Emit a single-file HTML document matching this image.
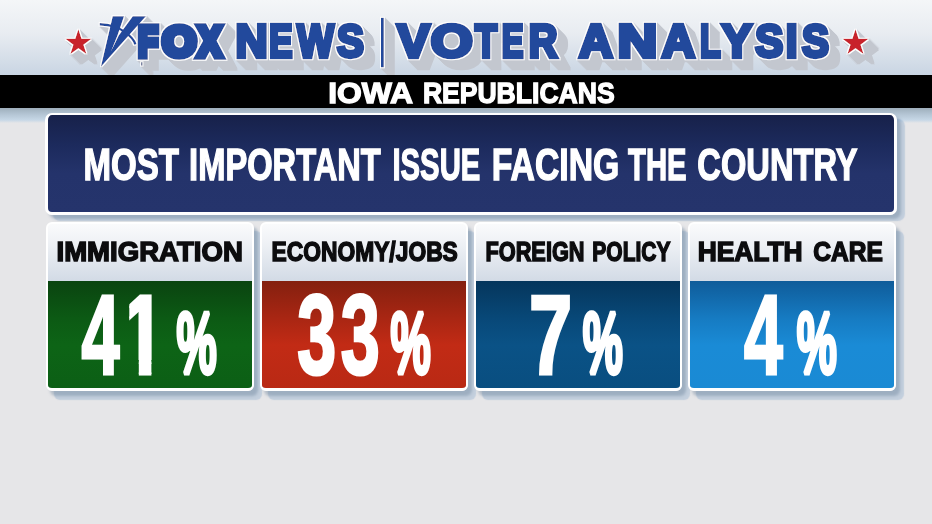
<!DOCTYPE html>
<html lang="en">
<head>
<meta charset="utf-8">
<title>Fox News Voter Analysis - Iowa Republicans</title>
<style>
html,body{margin:0;padding:0;}
body{width:932px;height:524px;position:relative;overflow:hidden;background:#e6e6e8;font-family:"Liberation Sans",sans-serif;}
.top{position:absolute;left:0;top:0;width:932px;height:75px;background:linear-gradient(180deg,#f4f6f8 0%,#e8ecf1 45%,#c9d5e3 100%);}
.bar{position:absolute;left:0;top:75px;width:932px;height:33px;background:#000;}
.under{position:absolute;left:0;top:108px;width:932px;height:16px;background:linear-gradient(180deg,#9eaebb 0px,#b3c4d3 6px,#c6d7e6 12px,#e6e6e8 15px);}
.panel{position:absolute;left:45px;top:113px;width:846px;height:97px;border:3px solid #fff;border-top-width:2px;border-radius:7px;
 background:linear-gradient(180deg,#17214a 0%,#1c2a5c 30%,#24336b 60%,#25346c 100%);
 box-shadow:4px 4px 3px rgba(105,128,152,.42),8px 6px 1px rgba(120,160,200,.32);}
.card{position:absolute;top:222px;width:204px;height:164px;border:2px solid #fff;border-bottom-width:3px;border-radius:6px;overflow:hidden;
 background:linear-gradient(180deg,#fafbfc 0px,#eef1f5 20px,#d3dbe6 56px);
 box-shadow:4px 5px 3px rgba(105,128,152,.42),8px 9px 1px rgba(120,160,200,.32);}
.card .fill{position:absolute;left:0;right:0;top:57px;bottom:0;}
.c1{left:46px}.c2{left:260px}.c3{left:474px}.c4{left:688px}
.c1 .fill{background:linear-gradient(180deg,#0a4410 0%,#0c5a14 35%,#0d6416 60%,#0c5f15 100%);}
.c2 .fill{background:linear-gradient(180deg,#84200f 0%,#a92613 35%,#c22b15 60%,#b92914 100%);}
.c3 .fill{background:linear-gradient(180deg,#05365c 0%,#084878 35%,#0a5286 60%,#094e80 100%);}
.c4 .fill{background:linear-gradient(180deg,#0f5c9a 0%,#167bc2 35%,#1a8bd6 60%,#1a8ad4 100%);}
svg{position:absolute;left:0;top:0;}
</style>
</head>
<body>
<div class="top"></div>
<div class="under"></div>
<svg width="932" height="75" viewBox="0 0 932 75">
 <defs>
  <filter id="ls" filterUnits="userSpaceOnUse" x="0" y="0" width="932" height="75">
   <feMorphology in="SourceAlpha" operator="dilate" radius="1.3" result="d"/>
   <feOffset in="d" dx="1" dy="1" result="o1"/><feOffset in="d" dx="2" dy="2" result="o2"/><feOffset in="d" dx="3" dy="3" result="o3"/><feOffset in="d" dx="4" dy="4" result="o4"/><feOffset in="d" dx="5" dy="5" result="o5"/><feOffset in="d" dx="6" dy="6" result="o6"/><feOffset in="d" dx="7" dy="7" result="o7"/><feOffset in="d" dx="8" dy="8" result="o8"/><feOffset in="d" dx="9" dy="9" result="o9"/><feOffset in="d" dx="10" dy="10" result="o10"/>
   <feMerge result="m"><feMergeNode in="o1"/><feMergeNode in="o2"/><feMergeNode in="o3"/><feMergeNode in="o4"/><feMergeNode in="o5"/><feMergeNode in="o6"/><feMergeNode in="o7"/><feMergeNode in="o8"/><feMergeNode in="o9"/><feMergeNode in="o10"/></feMerge>
   <feFlood flood-color="#c3c7cf" result="g"/><feComposite in="g" in2="m" operator="in" result="sh"/>
   <feFlood flood-color="#ffffff" result="w"/><feComposite in="w" in2="d" operator="in" result="ol"/>
   <feMerge><feMergeNode in="sh"/><feMergeNode in="ol"/><feMergeNode in="SourceGraphic"/></feMerge>
  </filter>
 </defs>
 <g filter="url(#ls)">
  <polygon fill="#c8202b" points="78.40,29.30 81.52,38.71 91.43,38.77 83.44,44.64 86.45,54.08 78.40,48.30 70.35,54.08 73.36,44.64 65.37,38.77 75.28,38.71"/>
  <polygon fill="#c8202b" points="855.50,29.30 858.62,38.71 868.53,38.77 860.54,44.64 863.55,54.08 855.50,48.30 847.45,54.08 850.46,44.64 842.47,38.77 852.38,38.71"/>
  <rect x="381" y="17.8" width="2.8" height="49.5" fill="#224a9c"/>
  <path d="M99.7,24.2 C110,24.6 119,27.5 124,31.5 C130,35.5 134,39 135.4,44.5" fill="none" stroke="#224a9c" stroke-width="2.5"/>
  <path d="M112.7,16.2 L124,16.2 L117.5,35.4 L111.2,51 L118.7,35.4 L132.8,16.2 L145.9,16.2 L100.9,66.8 Z" fill="#224a9c"/>
  <rect x="141.2" y="62.2" width="1.2" height="3.4" fill="#1f3b80"/>
  <g font-family="'Liberation Sans', sans-serif" font-size="44.5" font-weight="700" fill="#224a9c" stroke="#224a9c" stroke-width="4.2" stroke-linejoin="miter" stroke-miterlimit="2.5">
   <text font-size="40.6" stroke-width="7.0" transform="translate(0,56.21) scale(1,1.0618)"><tspan x="138.19" textLength="19.66" lengthAdjust="spacingAndGlyphs">F</tspan><tspan x="162.53" textLength="33.56" lengthAdjust="spacingAndGlyphs">O</tspan><tspan x="197.92" textLength="23.42" lengthAdjust="spacingAndGlyphs">X</tspan></text>
   <text transform="translate(0,57.34) scale(1,1.0314)"><tspan x="235.40" textLength="32.14" lengthAdjust="spacingAndGlyphs">N</tspan><tspan x="269.32" textLength="23.24" lengthAdjust="spacingAndGlyphs">E</tspan><tspan x="297.31" textLength="36.59" lengthAdjust="spacingAndGlyphs">W</tspan><tspan x="336.90" textLength="26.81" lengthAdjust="spacingAndGlyphs">S</tspan></text>
   <text transform="translate(0,57.34) scale(1,1.0314)"><tspan x="397.18" textLength="32.49" lengthAdjust="spacingAndGlyphs">V</tspan><tspan x="430.80" textLength="41.95" lengthAdjust="spacingAndGlyphs">O</tspan><tspan x="475.03" textLength="22.10" lengthAdjust="spacingAndGlyphs">T</tspan><tspan x="501.67" textLength="21.70" lengthAdjust="spacingAndGlyphs">E</tspan><tspan x="528.71" textLength="28.64" lengthAdjust="spacingAndGlyphs">R</tspan></text>
   <text transform="translate(0,57.34) scale(1,1.0314)"><tspan x="579.00" textLength="33.75" lengthAdjust="spacingAndGlyphs">A</tspan><tspan x="617.47" textLength="39.64" lengthAdjust="spacingAndGlyphs">N</tspan><tspan x="661.67" textLength="33.21" lengthAdjust="spacingAndGlyphs">A</tspan><tspan x="700.04" textLength="20.74" lengthAdjust="spacingAndGlyphs">L</tspan><tspan x="721.65" textLength="30.20" lengthAdjust="spacingAndGlyphs">Y</tspan><tspan x="755.14" textLength="27.96" lengthAdjust="spacingAndGlyphs">S</tspan><tspan x="785.85" textLength="11.76" lengthAdjust="spacingAndGlyphs">I</tspan><tspan x="802.01" textLength="26.91" lengthAdjust="spacingAndGlyphs">S</tspan></text>
  </g>
 </g>
</svg>
<div class="bar"></div>
<div class="panel"></div>
<div class="card c1"><div class="fill"></div></div>
<div class="card c2"><div class="fill"></div></div>
<div class="card c3"><div class="fill"></div></div>
<div class="card c4"><div class="fill"></div></div>
<svg width="932" height="524" viewBox="0 0 932 524">
 <g font-family="'Liberation Sans', sans-serif" font-size="26" font-weight="700" fill="#ffffff" stroke="#ffffff" stroke-width="1.2" stroke-linejoin="miter" stroke-miterlimit="2.5">
   <text transform="translate(328.17,102.50) scale(1.2250,1.1056)">IOWA</text>
   <text transform="translate(422.88,102.50) scale(1.0215,1.1056)">REPUBLICANS</text>
 </g>
 <g font-family="'Liberation Sans', sans-serif" font-size="44" font-weight="700" fill="#ffffff" stroke="#ffffff" stroke-width="1.4" stroke-linejoin="miter" stroke-miterlimit="2.5">
   <text transform="translate(83.50,179.58) scale(0.7520,1.0182)">MOST</text>
   <text transform="translate(189.12,179.58) scale(0.7424,1.0182)">IMPORTANT</text>
   <text transform="translate(392.47,179.58) scale(0.6651,1.0182)">ISSUE</text>
   <text transform="translate(491.77,179.58) scale(0.7673,1.0182)">FACING</text>
   <text transform="translate(628.00,179.58) scale(0.6655,1.0182)">THE</text>
   <text transform="translate(697.36,179.58) scale(0.7419,1.0182)">COUNTRY</text>
 </g>
 <g font-family="'Liberation Sans', sans-serif" font-size="27.5" font-weight="700" fill="#0c0c0e" stroke="#0c0c0e" stroke-width="1.5" stroke-linejoin="miter" stroke-miterlimit="2.5">
   <text transform="translate(56.50,261.01) scale(1.0033,0.9857)">IMMIGRATION</text>
   <text transform="translate(271.47,261.01) scale(0.8300,0.9857)">ECONOMY/JOBS</text>
   <text transform="translate(485.41,261.01) scale(0.7919,0.9857)">FOREIGN</text>
   <text transform="translate(592.34,261.01) scale(0.7637,0.9857)">POLICY</text>
   <text transform="translate(697.64,261.01) scale(0.9589,0.9857)">HEALTH</text>
   <text transform="translate(813.30,261.01) scale(0.8923,0.9857)">CARE</text>
 </g>
 <g font-family="'Liberation Sans', sans-serif" font-size="109" font-weight="700" fill="#ffffff" stroke="#ffffff" stroke-width="3.0" stroke-linejoin="miter" stroke-miterlimit="2.0">
   <g><text transform="translate(81.50,373.72) scale(0.6274,1.0423)">4</text><clipPath id="one"><polygon points="129.3,290.5 153.6,290.5 153.6,360.1 151.40,360.1 151.40,377.8 138.80,377.8 138.80,360.1 129.3,360.1"/></clipPath><g clip-path="url(#one)"><text transform="translate(121.27,373.72) scale(0.7240,1.0423)">1</text></g><text font-size="88" stroke-width="4.5" transform="translate(176.50,372.83) scale(0.5141,0.9894)">%</text></g>
   <g><text transform="translate(297.16,373.72) scale(0.6421,1.0423)">3</text><text transform="translate(340.66,373.72) scale(0.6439,1.0423)">3</text><text font-size="88" stroke-width="4.5" transform="translate(390.50,372.83) scale(0.5141,0.9894)">%</text></g>
   <g><text transform="translate(529.06,373.72) scale(0.7130,1.0423)">7</text><text font-size="88" stroke-width="4.5" transform="translate(582.80,372.83) scale(0.5128,0.9894)">%</text></g>
   <g><text transform="translate(744.10,373.72) scale(0.6387,1.0423)">4</text><text font-size="88" stroke-width="4.5" transform="translate(796.80,372.83) scale(0.5128,0.9894)">%</text></g>
 </g>
</svg>
</body>
</html>
